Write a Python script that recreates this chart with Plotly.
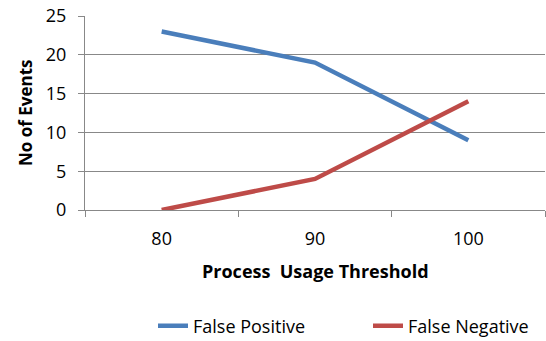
import plotly.graph_objects as go

thresholds = ["80", "90", "100"]
false_positive = [23, 19, 9]
false_negative = [0, 4, 14]

font_family = "Open Sans, Liberation Sans, sans-serif"
grid_color = "#888888"
W, H = 546, 341
plot_left, plot_right, plot_top, plot_bottom = 85, 545, 16, 210
plot_w, plot_h = plot_right - plot_left, plot_bottom - plot_top

fig = go.Figure()
fig.add_trace(go.Scatter(x=thresholds, y=false_positive, mode="lines", name="False Positive",
                         line=dict(color="#4A7EBB", width=4.5), legend="legend", showlegend=True))
fig.add_trace(go.Scatter(x=thresholds, y=false_negative, mode="lines", name="False Negative",
                         line=dict(color="#BE4B48", width=4.5), legend="legend2", showlegend=True))

legend_common = dict(yref="container", xref="container", yanchor="middle", xanchor="left",
                     font=dict(size=18), bgcolor="rgba(0,0,0,0)", borderwidth=0)

fig.update_layout(
    width=W, height=H, showlegend=True,
    margin=dict(l=plot_left, r=W - plot_right, t=plot_top, b=H - plot_bottom, autoexpand=False),
    paper_bgcolor="white", plot_bgcolor="white",
    font=dict(family=font_family, size=18, color="#000000"),
    legend=dict(x=153 / W, y=(H - 326) / H, **legend_common),
    legend2=dict(x=368 / W, y=(H - 326) / H, **legend_common),
    xaxis=dict(
        type="category", range=[-0.5, 2.5], tickson="boundaries",
        ticks="outside", ticklen=6, tickcolor=grid_color,
        showline=True, linecolor=grid_color, linewidth=1,
        showgrid=False, zeroline=False, automargin=False,
        tickfont=dict(size=18), ticklabelstandoff=12,
    ),
    yaxis=dict(
        range=[0, 25], dtick=5, tick0=0,
        ticks="outside", ticklen=6, tickcolor=grid_color,
        showline=True, linecolor=grid_color, linewidth=1,
        showgrid=True, gridcolor=grid_color, gridwidth=1, zeroline=False, automargin=False,
        tickfont=dict(size=18), ticklabelstandoff=8,
    ),
    annotations=[
        dict(text="<b>Process  Usage Threshold</b>", xref="paper", yref="paper",
             x=(315 - plot_left) / plot_w, y=(plot_bottom - 271) / plot_h,
             xanchor="center", yanchor="middle", showarrow=False, font=dict(size=18)),
        dict(text="<b>No of Events</b>", xref="paper", yref="paper",
             x=(25 - plot_left) / plot_w, y=(plot_bottom - 113) / plot_h, textangle=-90,
             xanchor="center", yanchor="middle", showarrow=False, font=dict(size=17)),
    ],
)

fig.write_html("out.html")
